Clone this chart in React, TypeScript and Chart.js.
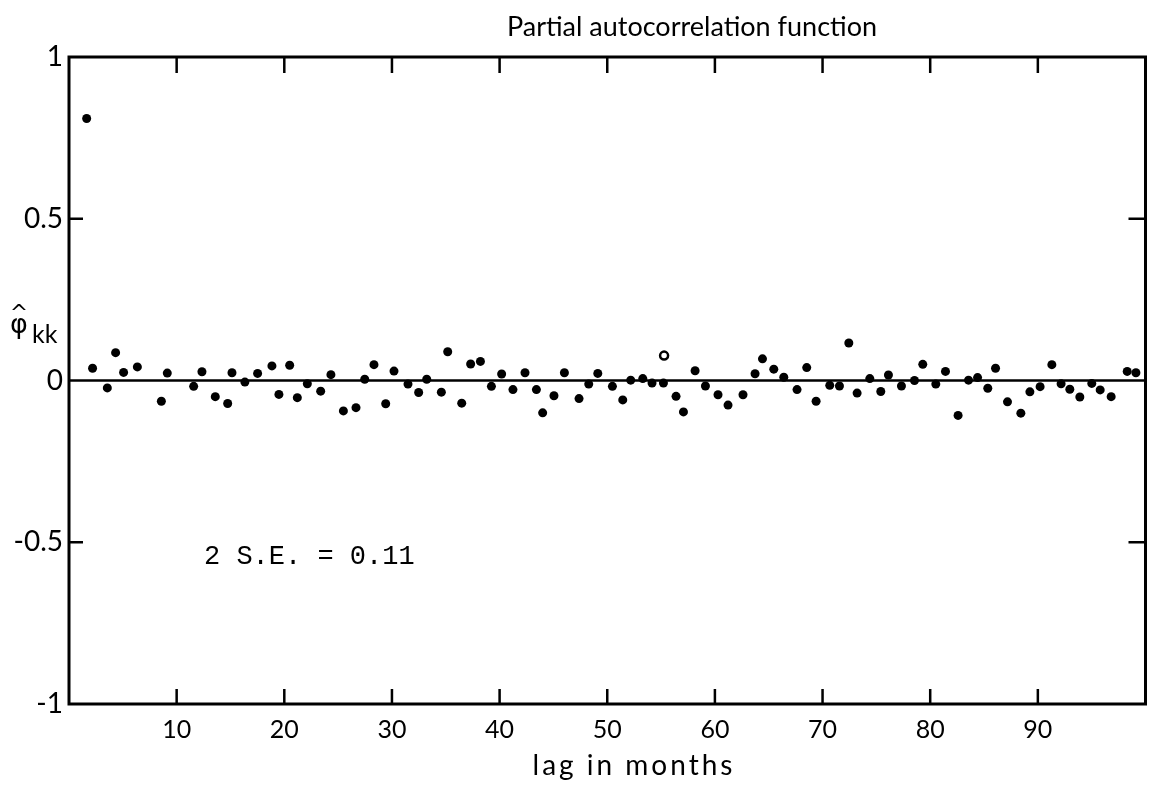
import React, { useEffect, useRef } from "react";
import { Chart, registerables } from "chart.js";

Chart.register(...registerables);

// Lag positions (as plotted) and partial autocorrelation estimates
const lags = [
  1.64, 2.19, 3.56, 4.33, 5.07, 6.35, 8.58, 9.13, 11.58, 12.35,
  13.59, 14.74, 15.14, 16.34, 17.52, 18.85, 19.5, 20.5, 21.21, 22.14,
  23.38, 24.33, 25.49, 26.66, 27.47, 28.33, 29.42, 30.19, 31.49, 32.48,
  33.23, 34.59, 35.18, 36.48, 37.31, 38.22, 39.24, 40.19, 41.24, 42.36,
  43.42, 44.0, 45.05, 46.02, 47.38, 48.28, 49.12, 50.48, 51.44, 52.18,
  53.3, 54.16, 55.22, 56.39, 57.08, 58.16, 59.12, 60.29, 61.22, 62.61,
  63.73, 64.42, 65.47, 66.4, 67.63, 68.53, 69.4, 70.67, 71.57, 72.44,
  73.21, 74.39, 75.41, 76.12, 77.33, 78.54, 79.31, 80.52, 81.42, 82.59,
  83.56, 84.4, 85.35, 86.07, 87.18, 88.42, 89.26, 90.21, 91.3, 92.16,
  92.97, 93.9, 95.01, 95.79, 96.81, 98.3, 99.11,
];

const pacf = [
  0.81, 0.038, -0.023, 0.086, 0.025, 0.042, -0.064, 0.023, -0.018, 0.027,
  -0.05, -0.071, 0.024, -0.005, 0.022, 0.045, -0.043, 0.047, -0.053, -0.01,
  -0.033, 0.018, -0.094, -0.084, 0.004, 0.049, -0.072, 0.029, -0.011, -0.037,
  0.004, -0.036, 0.089, -0.07, 0.051, 0.059, -0.018, 0.02, -0.028, 0.024,
  -0.028, -0.1, -0.047, 0.024, -0.056, -0.011, 0.022, -0.018, -0.06, 0.001,
  0.006, -0.008, -0.008, -0.049, -0.097, 0.03, -0.017, -0.044, -0.076, -0.044,
  0.021, 0.067, 0.035, 0.01, -0.028, 0.04, -0.064, -0.015, -0.017, 0.116,
  -0.039, 0.006, -0.034, 0.017, -0.017, 0.0, 0.05, -0.011, 0.028, -0.108,
  0.001, 0.009, -0.024, 0.038, -0.066, -0.101, -0.035, -0.019, 0.049, -0.01,
  -0.027, -0.051, -0.009, -0.029, -0.05, 0.028, 0.024,
];

// one point drawn as an open circle
const hollowLags = [55.28];
const hollowPacf = [0.077];

const xTickValues = [10, 20, 30, 40, 50, 60, 70, 80, 90];
const yTickValues = [1, 0.5, 0, -0.5, -1];
const yInnerTicks = [0.5, -0.5];

const titleText = "Partial autocorrelation function";
const xTitleText = "lag in months";
const noteText = "2 S.E. = 0.11";

const framePlugin = {
  id: "frame",
  afterDraw(chart: any) {
    const { ctx, chartArea, scales } = chart;
    const { left, right, top, bottom } = chartArea;
    const x = scales.x;
    const y = scales.y;
    ctx.save();
    ctx.strokeStyle = "#000";
    ctx.lineWidth = 3;
    ctx.strokeRect(left, top, right - left, bottom - top);
    ctx.lineWidth = 2.5;
    ctx.beginPath();
    for (const v of xTickValues) {
      const px = x.getPixelForValue(v);
      ctx.moveTo(px, top);
      ctx.lineTo(px, top + 16);
      ctx.moveTo(px, bottom);
      ctx.lineTo(px, bottom - 15);
    }
    for (const v of yInnerTicks) {
      const py = y.getPixelForValue(v);
      ctx.moveTo(left, py);
      ctx.lineTo(left + 14, py);
      ctx.moveTo(right, py);
      ctx.lineTo(right - 17, py);
    }
    ctx.stroke();

    ctx.fillStyle = "#000";
    // main title
    ctx.font = "27px Lato";
    ctx.textAlign = "center";
    ctx.textBaseline = "middle";
    ctx.fillText(titleText, 692, 27);
    // x axis title
    ctx.font = "28px Lato";
    (ctx as any).letterSpacing = "3px";
    ctx.fillText(xTitleText, 634, 766);
    (ctx as any).letterSpacing = "0px";

    // y axis label: phi-hat subscript kk
    ctx.font = "27px 'DejaVu Sans'";
    ctx.textAlign = "center";
    ctx.fillText("\u03C6", 19, 326);
    ctx.font = "22px 'DejaVu Sans'";
    ctx.fillText("^", 19, 314);
    ctx.font = "25px Lato";
    ctx.textAlign = "left";
    ctx.textBaseline = "alphabetic";
    ctx.fillText("kk", 32, 343);

    // annotation
    ctx.font = "27px 'Liberation Mono'";
    ctx.textBaseline = "middle";
    ctx.fillText(noteText, 204, 557);
    ctx.restore();
  },
};

export default function App() {
  const ref = useRef<HTMLCanvasElement>(null);

  useEffect(() => {
    if (!ref.current) return;
    const points = lags.map((l, i) => ({ x: l, y: pacf[i] }));
    const hollow = hollowLags.map((l, i) => ({ x: l, y: hollowPacf[i] }));
    const chart = new Chart(ref.current, {
      type: "scatter",
      data: {
        datasets: [
          {
            label: "zero",
            data: [
              { x: 0, y: 0 },
              { x: 100, y: 0 },
            ],
            showLine: true,
            borderColor: "#000",
            borderWidth: 2.5,
            pointRadius: 0,
          },
          {
            label: "pacf",
            data: points,
            backgroundColor: "#000",
            borderColor: "#000",
            borderWidth: 0,
            pointRadius: 4.5,
          },
          {
            label: "hollow",
            data: hollow,
            backgroundColor: "#fff",
            borderColor: "#000",
            borderWidth: 2.5,
            pointRadius: 4,
          },
        ],
      },
      options: {
        responsive: false,
        animation: false,
        layout: { padding: { top: 57, right: 5, left: 0, bottom: 0 } },
        plugins: {
          legend: { display: false },
          tooltip: { enabled: false },
          title: { display: false },
        },
        scales: {
          x: {
            type: "linear",
            min: 0,
            max: 100,
            afterFit: (s: any) => {
              s.height = 83;
            },
            afterBuildTicks: (s: any) => {
              s.ticks = xTickValues.map((v) => ({ value: v }));
            },
            grid: { display: false, drawTicks: false },
            border: { display: false },
            ticks: {
              autoSkip: false,
              maxRotation: 0,
              padding: 11,
              color: "#000",
              font: { family: "Lato", size: 25 },
              callback: (v: any) => String(v),
            },
          },
          y: {
            min: -1,
            max: 1,
            afterFit: (s: any) => {
              s.width = 69;
            },
            afterBuildTicks: (s: any) => {
              s.ticks = yTickValues.map((v) => ({ value: v }));
            },
            grid: { display: false, drawTicks: false },
            border: { display: false },
            ticks: {
              padding: 6,
              color: "#000",
              font: { family: "Lato", size: 28 },
              callback: (v: any) => String(v),
            },
          },
        },
      },
      plugins: [framePlugin],
    });
    return () => chart.destroy();
  }, []);

  return (
    <div
      style={{
        position: "fixed",
        left: 0,
        top: 0,
        width: 1152,
        height: 787,
        background: "#fff",
      }}
    >
      <canvas
        ref={ref}
        width={1152}
        height={787}
        style={{ width: 1152, height: 787, display: "block" }}
      />
    </div>
  );
}
